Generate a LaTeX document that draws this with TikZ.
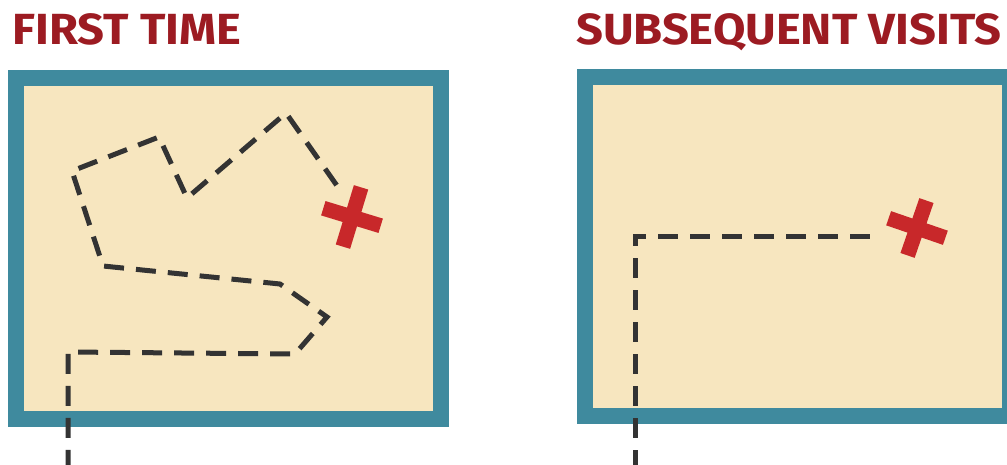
\documentclass[tikz,border=0pt]{standalone}
\usepackage{fontspec}
\setmainfont{Fira Sans}
\usepackage{tikz}

\definecolor{titlered}{HTML}{9C1B22}
\definecolor{mapblue}{HTML}{3F8A9E}
\definecolor{mapsand}{HTML}{F7E6BF}
\definecolor{trailgray}{HTML}{333333}
\definecolor{crossred}{HTML}{C8282A}

\newcommand{\widetitle}[1]{\scalebox{1.08}[1]{#1}}

\tikzset{
    heading/.style={font=\fontsize{31}{31}\selectfont\bfseries,text=titlered,anchor=base west,inner sep=0pt},
    mapbox/.style={draw=mapblue,fill=mapsand,line width=0.4cm},
    trail/.style={draw=trailgray,line width=0.125cm,dash pattern=on 0.5cm off 0.3cm},
    crossarm/.style={draw=crossred,line width=0.375cm}
}

\begin{document}
\begin{tikzpicture}[x=0.025cm,y=-0.025cm]
    \useasboundingbox (0,0) rectangle (1007,465);
    \clip (0,0) rectangle (1007,465);

    % First time: wandering trail
    \begin{scope}
        \node[heading] (firstTitle) at (12,45) {\widetitle{FIRST TIME}};
        \draw[mapbox] (16,78) rectangle (441,419);

        \draw[trail] (68,470) -- (68,352) -- (295,354) -- (327,317) -- (280,284)
            -- (103,266) -- (72,171) -- (159,137) -- (187,198) -- (286,113) -- (340,190);

        \begin{scope}[shift={(352,217)},rotate=-17]
            \draw[crossarm] (-30,0) -- (30,0);
            \draw[crossarm] (0,-31) -- (0,31);
        \end{scope}
    \end{scope}

    % Subsequent visits: direct trail
    \begin{scope}
        \node[heading] (nextTitle) at (576,45) {\widetitle{SUBSEQUENT VISITS}};
        \draw[mapbox] (585,77) rectangle (1010,416);

        \draw[trail] (635,470) -- (635,237) -- (870,237);

        \begin{scope}[shift={(917,228)},rotate=-19]
            \draw[crossarm] (-30,0) -- (30,0);
            \draw[crossarm] (0,-29) -- (0,29);
        \end{scope}
    \end{scope}
\end{tikzpicture}
\end{document}
